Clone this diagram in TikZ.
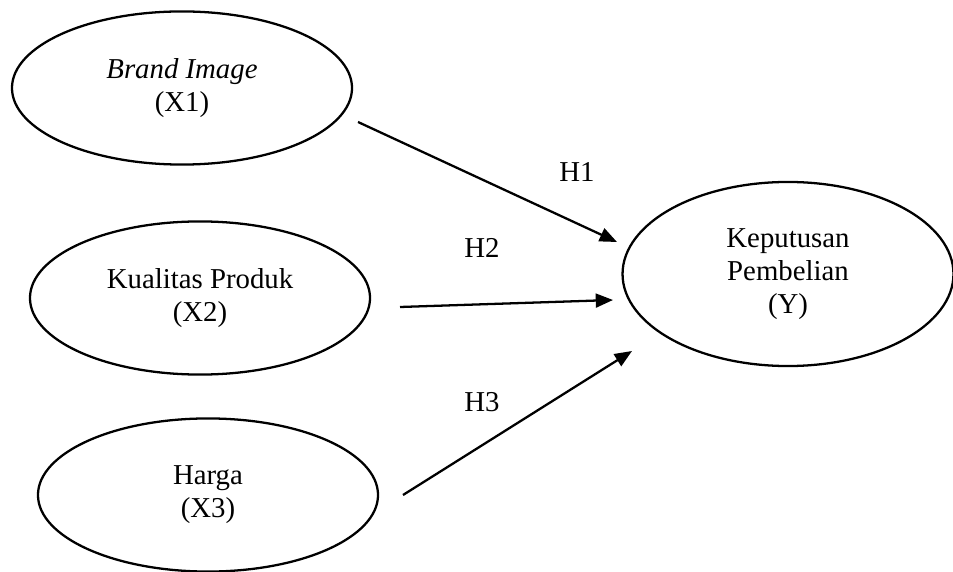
\documentclass[tikz,border=0pt]{standalone}
\usepackage{fontspec}
\setmainfont{Liberation Serif}
\usetikzlibrary{shapes.geometric,arrows.meta}
\begin{document}
\begin{tikzpicture}[x=0.4167pt, y=-0.4167pt, line width=0.95pt,
  every node/.style={font=\fontsize{12}{13.75}\selectfont, align=center},
  var/.style={ellipse, draw, inner sep=0pt, minimum width=141.7pt, minimum height=63.8pt},
  hyp/.style={-{Triangle[length=7.2pt,width=5.8pt]}}]
\useasboundingbox (0,0) rectangle (953,572);
\node[var] (x1) at (182,88) {\textit{Brand Image}\\(X1)};
\node[var] (x2) at (200,298) {Kualitas Produk\\(X2)};
\node[var] (x3) at (208,495) {Harga\\(X3)};
\node[var, minimum width=137.9pt, minimum height=76.7pt] (y) at (788,274) {Keputusan\\Pembelian\\(Y)};

\coordinate (h1s) at (358,122);
\coordinate (h1e) at (617,242);
\coordinate (h2s) at (400,307);
\coordinate (h2e) at (613,300);
\coordinate (h3s) at (403,495);
\coordinate (h3e) at (632,351);

\draw[hyp] (h1s) -- (h1e);
\draw[hyp] (h2s) -- (h2e);
\draw[hyp] (h3s) -- (h3e);

\node (h1) at (577,172) {H1};
\node (h2) at (482,248) {H2};
\node (h3) at (482,402) {H3};
\end{tikzpicture}
\end{document}
